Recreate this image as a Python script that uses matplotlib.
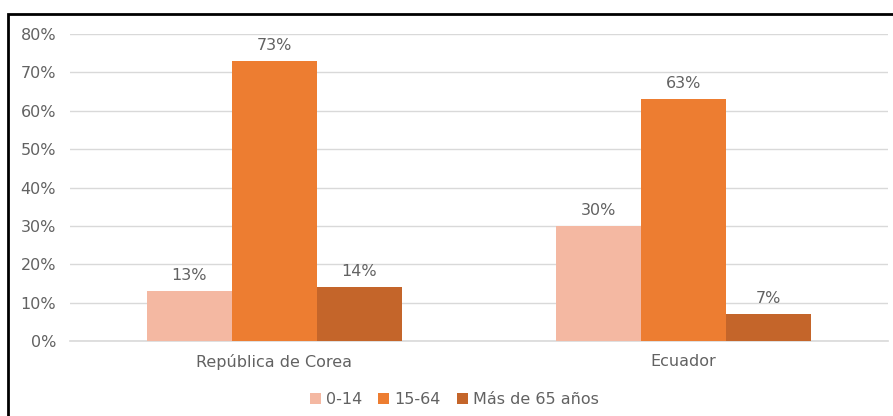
import matplotlib.pyplot as plt
import numpy as np
from matplotlib.patches import Rectangle

plt.rcParams['font.family'] = ['DejaVu Sans']

countries = ['República de Corea', 'Ecuador']
groups = ['0-14', '15-64', 'Más de 65 años']
val_0_14 = [0.13, 0.30]
val_15_64 = [0.73, 0.63]
val_65 = [0.14, 0.07]
labels_0_14 = ['13%', '30%']
labels_15_64 = ['73%', '63%']
labels_65 = ['14%', '7%']
colors = ['#F4B8A2', '#ED7D31', '#C4652A']
ticks = [0, 0.1, 0.2, 0.3, 0.4, 0.5, 0.6, 0.7, 0.8]
tick_labels = ['0%', '10%', '20%', '30%', '40%', '50%', '60%', '70%', '80%']

txt_color = '#626262'

fig = plt.figure(figsize=(8.93, 4.16), dpi=100)
ax = fig.add_axes([0.0784, 0.180, 0.9156, 0.738])

x = np.arange(len(countries))
w = 0.208
series = [val_0_14, val_15_64, val_65]
lbls = [labels_0_14, labels_15_64, labels_65]
for i, (vals, lab) in enumerate(zip(series, lbls)):
    pos = x + (i - 1) * w
    ax.bar(pos, vals, w, color=colors[i], label=groups[i], zorder=3)
    for p, v, t in zip(pos, vals, lab):
        ax.text(p, v + 0.022, t, ha='center', va='bottom', fontsize=11.5, color=txt_color)

ax.set_xlim(-0.5, 1.5)
ax.set_ylim(0, 0.8)
ax.set_yticks(ticks)
ax.set_yticklabels(tick_labels)
ax.set_xticks(x)
ax.set_xticklabels(countries)
ax.tick_params(axis='both', length=0, labelsize=11.5, colors=txt_color)
ax.tick_params(axis='y', pad=10)
ax.tick_params(axis='x', pad=9)
ax.grid(axis='y', color='#D9D9D9', linewidth=1, zorder=0)
ax.axhline(0, color='#D9D9D9', linewidth=1.2, clip_on=False, zorder=2)
for s in ax.spines.values():
    s.set_visible(False)

ax.legend(loc='upper center', bbox_to_anchor=(0.47, -0.12), ncol=3, frameon=False,
          fontsize=11.5, handlelength=0.7, handleheight=0.7, handletextpad=0.3,
          columnspacing=1.0, labelcolor=txt_color)

fig.patches.append(Rectangle((8 / 893, -0.05), 1.1, 0.966 + 0.05, transform=fig.transFigure,
                             fill=False, edgecolor='black', linewidth=2))

fig.savefig('out.png', dpi=100)
